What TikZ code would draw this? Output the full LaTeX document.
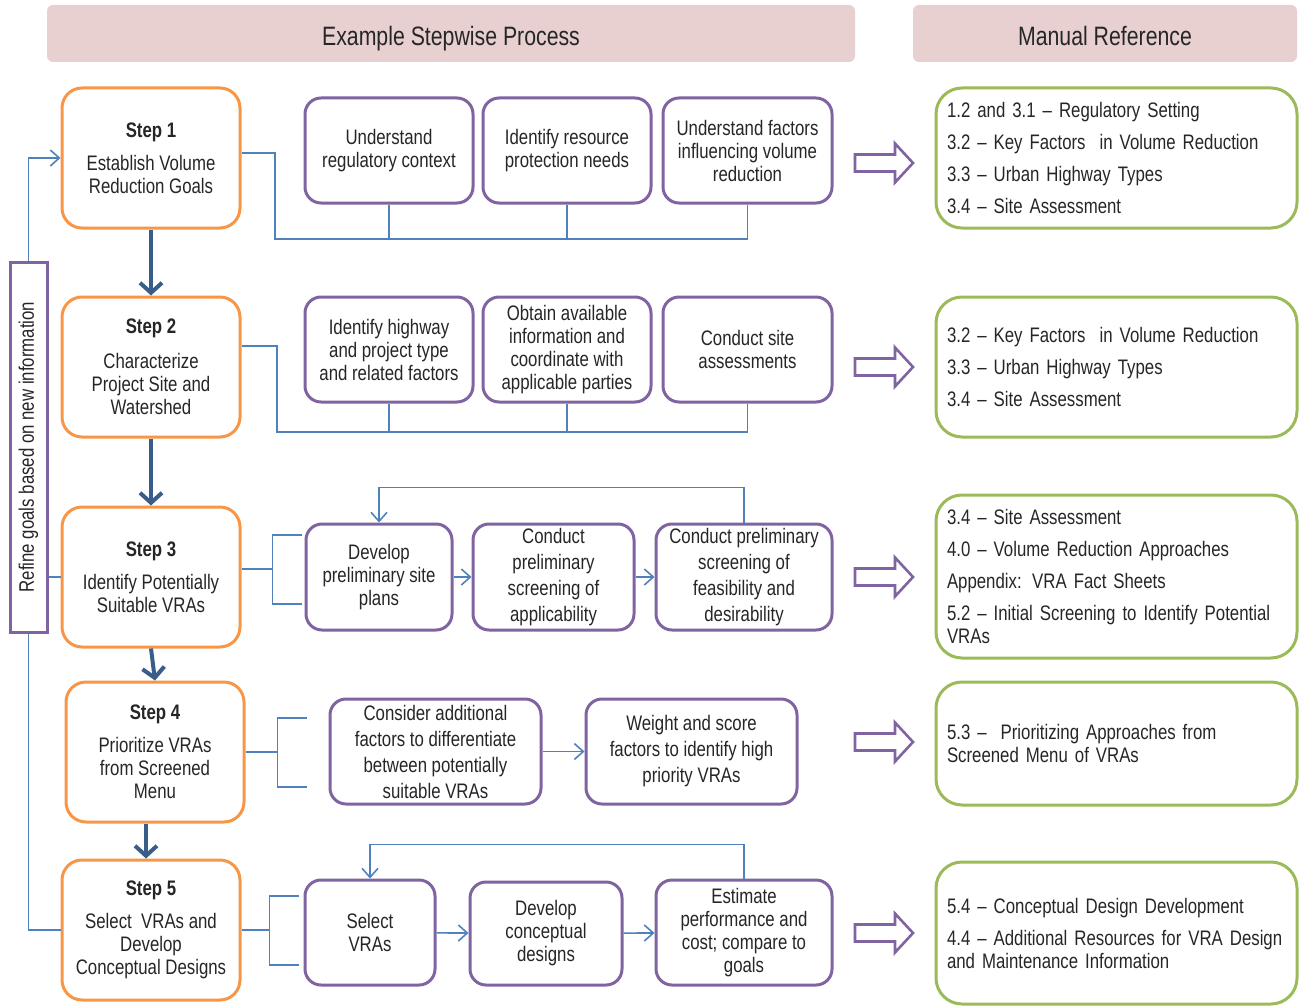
\documentclass[tikz,border=0pt]{standalone}
\usepackage{fontspec}
\setmainfont{Liberation Sans}[FakeStretch=0.8]
\usepackage{xcolor}
\usepackage{tikz}
\usetikzlibrary{arrows.meta,calc,positioning}
\definecolor{sorange}{HTML}{F79646}
\definecolor{spurple}{HTML}{8064A2}
\definecolor{sgreen}{HTML}{9BBB59}
\definecolor{sblue}{HTML}{4F81BD}
\definecolor{sdark}{HTML}{385D8A}
\definecolor{spink}{HTML}{E8D0D1}
\definecolor{stext}{HTML}{262626}
\newcommand\stxt{\fontsize{10.5}{11.5}\selectfont\hyphenpenalty=10000}
\newcommand\swide{\fontsize{10.5}{13}\selectfont}
\newcommand\shd{\fontsize{13.3}{16}\selectfont}
\tikzset{
  >={Straight Barb[length=4.5pt,width=8pt]},
  shead/.style={fill=spink, rounded corners=3pt, minimum height=28.5pt,
                text height=13pt, text depth=1.2pt, font=\shd, text=stext},
  sstep/.style={rounded corners=10pt, draw=sorange, line width=1.5pt,
                fill=white, align=center, minimum width=89pt,
                minimum height=70pt, inner sep=2pt, font=\stxt, text=stext},
  ssub/.style={rounded corners=8pt, draw=spurple, line width=1.5pt,
               fill=white, align=center, minimum height=52.5pt,
               inner sep=1pt, font=\stxt, text=stext},
  ssubw/.style={ssub, font=\swide},
  sref/.style={rounded corners=13pt, draw=sgreen, line width=1.5pt,
               align=left, text width=169.5pt, inner xsep=5.5pt,
               font=\stxt, text=stext},
  srefine/.style={draw=spurple, line width=1.5pt, rotate=90,
                  minimum width=185pt, minimum height=18.5pt,
                  font=\stxt, text=stext},
  sline/.style={sblue, line width=0.8pt},
  sflow/.style={->, sblue, line width=0.8pt},
  sdown/.style={-{Straight Barb[length=5pt,width=11pt]}, sdark,
                line width=2pt},
  sbig/.style={draw=spurple, fill=white, line width=1.3pt, line join=miter},
}
\begin{document}
\begin{tikzpicture}[x=0.5pt,y=-0.5pt]
  \useasboundingbox (0,0) rectangle (1301,1006);

  % headers
  \node[shead, minimum width=404pt] (hproc) at (451,33.5) {Example Stepwise Process};
  \node[shead, minimum width=192pt] (hman) at (1105,33.5) {Manual Reference};

  % steps
  \node[sstep] (step1) at (151,158) {{\bfseries Step 1}\\[5pt]Establish Volume\\Reduction Goals};
  \node[sstep] (step2) at (151,367) {{\bfseries Step 2}\\[6pt]Characterize\\Project Site and\\Watershed};
  \node[sstep] (step3) at (151,577) {{\bfseries Step 3}\\[5pt]Identify Potentially\\Suitable VRAs};
  \node[sstep] (step4) at (155,752) {{\bfseries Step 4}\\[5pt]Prioritize VRAs\\from Screened\\Menu};
  \node[sstep] (step5) at (151,930) {{\bfseries Step 5}\\[5pt]Select~ VRAs and\\Develop\\Conceptual Designs};

  \draw[sdown] (step1.south) -- (step2.north);
  \draw[sdown] (step2.south) -- (step3.north);
  \draw[sdown] (step3.south) -- (step4.north);
  \draw[sdown] ([xshift=-4.5pt]step4.south) -- ([xshift=-2.5pt]step5.north);

  \node[srefine] (refine) at (28.5,447) {Refine goals based on new information};
  \draw[sflow] (refine.east) |- (step1.west);
  \draw[sline] (refine.south |- step3.west) -- (step3.west);
  \draw[sline] (refine.west) |- (step5.west);

  % row 1
  \node[ssub, minimum width=84pt] (a1) at (389,150.5) {Understand\\regulatory context};
  \node[ssub, minimum width=84pt] (b1) at (567,150.5) {Identify resource\\protection needs};
  \node[ssub, minimum width=84.5pt] (c1) at (747.5,150.5) {Understand factors\\influencing volume\\reduction};
  \coordinate (bus1) at (275,239);
  \draw[sline] ($(step1.east)+(0,-5)$) -| (bus1) -- (bus1 -| c1.south);
  \foreach \n in {a1,b1,c1}
    \draw[sline] (\n.south) -- (\n.south |- bus1);

  % row 2
  \node[ssub, minimum width=84pt] (a2) at (389,349.5) {Identify highway\\and project type\\and related factors};
  \node[ssub, minimum width=84pt] (b2) at (567,349.5) {Obtain available\\information and\\coordinate with\\applicable parties};
  \node[ssub, minimum width=84.5pt] (c2) at (747.5,349.5) {Conduct site\\assessments};
  \coordinate (bus2) at (277,432);
  \draw[sline] ($(step2.east)+(0,-21)$) -| (bus2) -- (bus2 -| c2.south);
  \foreach \n in {a2,b2,c2}
    \draw[sline] (\n.south) -- (\n.south |- bus2);

  % row 3
  \node[ssub, minimum width=73pt, minimum height=53pt] (a3) at (379,577) {Develop\\preliminary site\\plans};
  \node[ssubw, minimum width=80.5pt, minimum height=53pt] (b3) at (553.5,577) {Conduct\\preliminary\\screening of\\applicability};
  \node[ssubw, minimum width=88pt, minimum height=53pt] (c3) at (744,577) {Conduct preliminary\\screening of\\feasibility and\\desirability};
  \draw[sline] ($(step3.east)+(0,-8)$) -- ++(31,0) coordinate (br3);
  \draw[sline] ($(br3)+(29,-34)$) -- ++(-29,0) -- ++(0,69) -- ++(29,0);
  \draw[sflow] (a3) -- (b3);
  \draw[sflow] (b3) -- (c3);
  \draw[sflow] (c3.north) -- ++(0,-35) -| (a3.north);

  % row 4
  \node[ssubw, minimum width=105.5pt] (a4) at (435.5,751.5) {Consider additional\\factors to differentiate\\between potentially\\suitable VRAs};
  \node[ssubw, minimum width=105.5pt] (b4) at (691.5,751.5) {Weight and score\\factors to identify high\\priority VRAs};
  \draw[sline] (step4.east) -- ++(32,0) coordinate (br4);
  \draw[sline] ($(br4)+(29,-34)$) -- ++(-29,0) -- ++(0,69) -- ++(29,0);
  \draw[sflow] (a4) -- (b4);

  % row 5
  \node[ssub, minimum width=65pt] (a5) at (370,932.5) {Select\\VRAs};
  \node[ssub, minimum width=76pt, minimum height=51.5pt] (b5) at (546,933.5) {Develop\\conceptual\\designs};
  \node[ssub, minimum width=88pt] (c5) at (744,932.5) {Estimate\\performance and\\cost; compare to\\goals};
  \draw[sline] (step5.east) -- ++(28,0) coordinate (br5);
  \draw[sline] ($(br5)+(29,-34)$) -- ++(-29,0) -- ++(0,69) -- ++(29,0);
  \draw[sflow] (a5) -- (b5);
  \draw[sflow] (b5) -- (c5);
  \draw[sflow] (c5.north) -- ++(0,-34) -| (a5.north);

  % hollow arrows to the manual
  \foreach \y in {163,367,577,742,933}
    \draw[sbig] (855,\y-8.5) -- (895,\y-8.5) -- (895,\y-19.5) -- (913,\y)
      -- (895,\y+19.5) -- (895,\y+8.5) -- (855,\y+8.5) -- cycle;

  % manual references
  \node[sref, minimum height=70pt] (ref1) at (1116.5,158)
    {1.2 and 3.1 – Regulatory Setting\\[4.5pt]3.2 – Key Factors~ in Volume Reduction\\[4.5pt]3.3 – Urban Highway Types\\[4.5pt]3.4 – Site Assessment};
  \node[sref, minimum height=70pt] (ref2) at (1116.5,367)
    {3.2 – Key Factors~ in Volume Reduction\\[4.5pt]3.3 – Urban Highway Types\\[4.5pt]3.4 – Site Assessment};
  \node[sref, minimum height=81.5pt] (ref3) at (1116.5,576.5)
    {3.4 – Site Assessment\\[4.5pt]4.0 – Volume Reduction Approaches\\[4.5pt]Appendix: VRA Fact Sheets\\[4.5pt]\mbox{5.2 – Initial Screening to Identify Potential}\\VRAs};
  \node[sref, minimum height=61.5pt] (ref4) at (1116.5,743.5)
    {5.3 –~ Prioritizing Approaches from\\Screened Menu of VRAs};
  \node[sref, minimum height=71pt] (ref5) at (1116.5,933)
    {5.4 – Conceptual Design Development\\[4.5pt]\mbox{4.4 – Additional Resources for VRA Design}\\and Maintenance Information};

\end{tikzpicture}
\end{document}
